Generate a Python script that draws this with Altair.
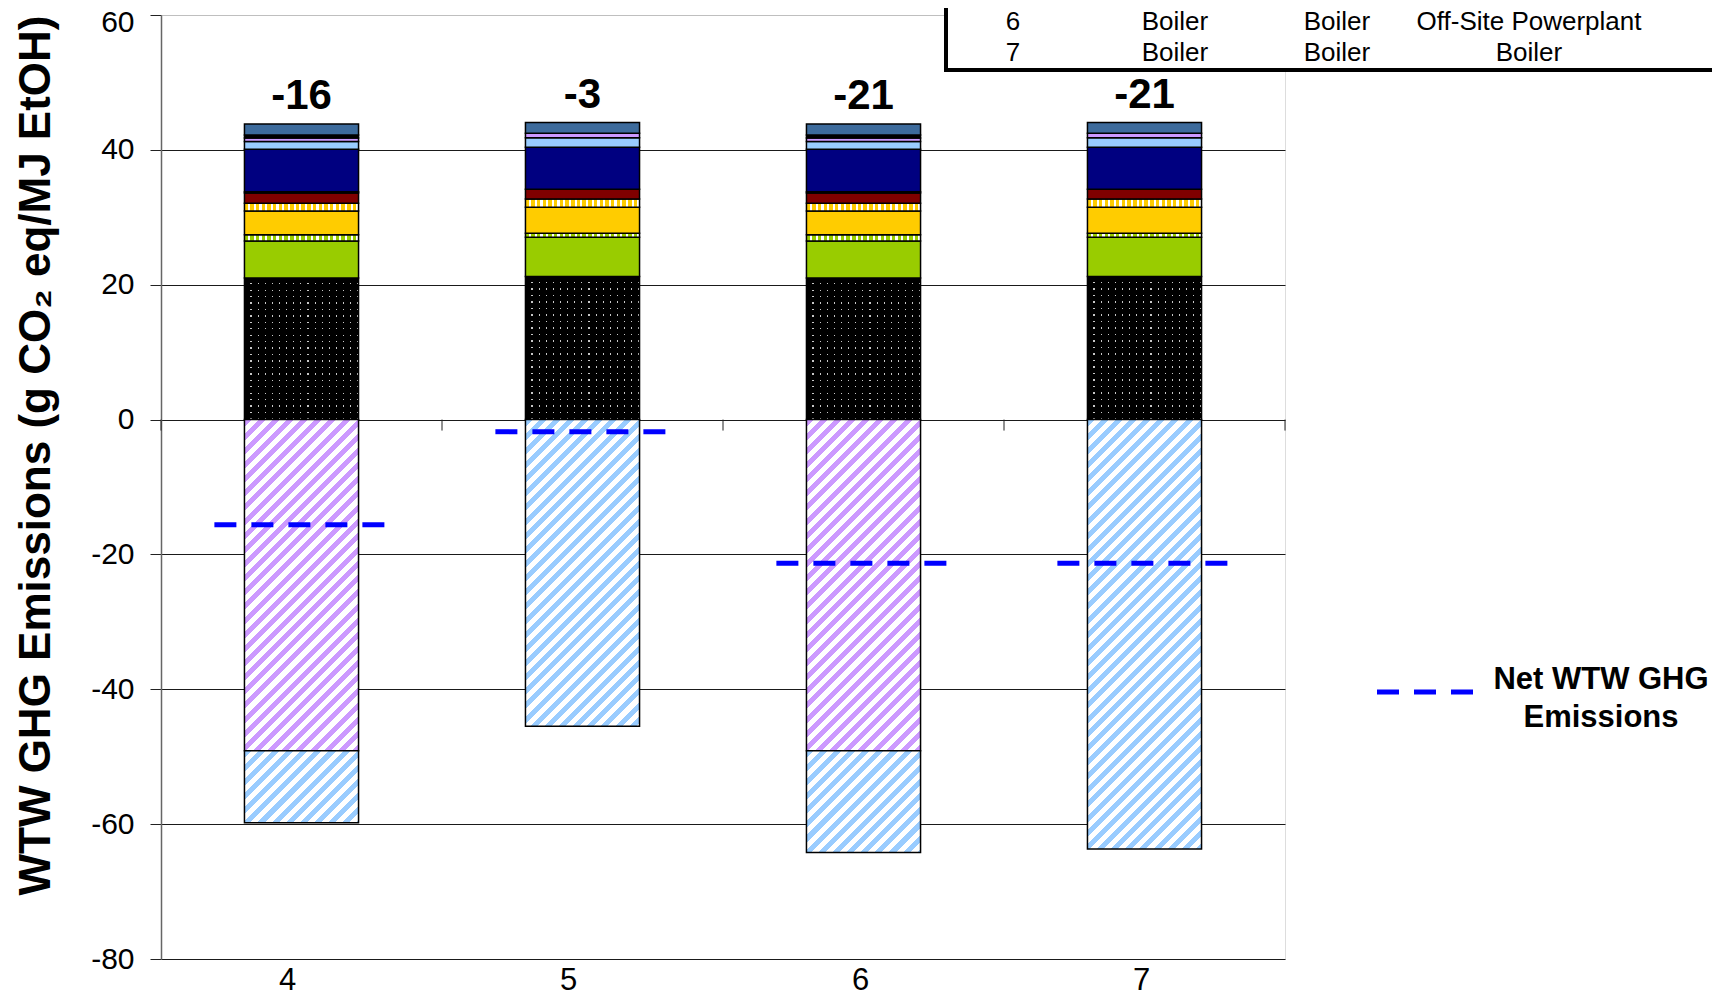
import math
import altair as alt
import pandas as pd

# ---------------- data ----------------
scenarios = ["4", "5", "6", "7"]

# positive contributions, bottom to top (g CO2eq / MJ EtOH)
dotted_black = [21.0, 21.2, 21.0, 21.2]
green = [5.5, 5.85, 5.5, 5.85]
green_striped = [0.9, 0.6, 0.9, 0.6]
yellow = [3.55, 3.85, 3.55, 3.85]
yellow_striped = [1.15, 1.2, 1.15, 1.2]
dark_red = [1.5, 1.45, 1.5, 1.45]
black_low = [0.2, 0.0, 0.2, 0.0]
navy = [6.3, 6.25, 6.3, 6.25]
light_blue = [1.15, 1.4, 1.15, 1.4]
lavender = [0.5, 0.65, 0.5, 0.65]
black_high = [0.45, 0.0, 0.45, 0.0]
steel_blue = [1.65, 1.6, 1.65, 1.6]

# credits (negative), top to bottom
credit_purple = [-49.1, 0.0, -49.1, 0.0]
credit_blue = [-10.7, -45.5, -15.1, -63.7]

net_wtw = [-15.6, -1.8, -21.3, -21.3]
net_labels = ["-16", "-3", "-21", "-21"]

table_rows = [["6", "Boiler", "Boiler", "Off-Site Powerplant"],
              ["7", "Boiler", "Boiler", "Boiler"]]
legend_lines = ["Net WTW GHG", "Emissions"]
y_ticks = [-80, -60, -40, -20, 0, 20, 40, 60]
y_title = "WTW GHG Emissions (g CO\u2082 eq/MJ EtOH)"

# ---------------- layout / style ----------------
FONT = "Liberation Sans"
W, H = 1124, 944
Y_MIN, Y_MAX = -80, 60
PX_PER_UNIT = H / (Y_MAX - Y_MIN)
BAR_FRAC = 0.406
BAR_W = W / len(scenarios) * BAR_FRAC
CLEAR = "rgba(0,0,0,0)"


def vstripes(color, w, period=5.7, frac=0.6, bg="#ffffff"):
    n = max(1, int(round(w / period)))
    stops = []
    for k in range(n):
        a, b, c = k / n, (k + frac) / n, (k + 1) / n
        stops += [{"offset": a, "color": color}, {"offset": b, "color": color},
                  {"offset": b, "color": bg}, {"offset": c, "color": bg}]
    return {"gradient": "linear", "x1": 0, "y1": 0, "x2": 1, "y2": 0, "stops": stops}


def hstripes(color, h, period=6.5, frac=0.8, bg=CLEAR):
    n = max(1, int(round(h / period)))
    stops = []
    for k in range(n):
        a, b, c = k / n, (k + frac) / n, (k + 1) / n
        stops += [{"offset": a, "color": color}, {"offset": b, "color": color},
                  {"offset": b, "color": bg}, {"offset": c, "color": bg}]
    return {"gradient": "linear", "x1": 0, "y1": 0, "x2": 0, "y2": 1, "stops": stops}


def hatch(color, w, h, period=10.0, frac=0.5):
    sn = cs = math.sqrt(0.5)
    L = w * sn + h * cs
    a = L / (w * w * sn * sn + h * h * cs * cs)
    x2, y2 = a * w * sn, a * h * cs
    stops = []
    k = 0
    while k * period < L:
        t0 = k * period / L
        t1 = min(1.0, (k + frac) * period / L)
        t2 = min(1.0, (k + 1) * period / L)
        stops += [{"offset": t0, "color": color}, {"offset": t1, "color": color},
                  {"offset": t1, "color": "#ffffff"}, {"offset": t2, "color": "#ffffff"}]
        k += 1
    return {"gradient": "linear", "x1": 0, "y1": 0, "x2": x2, "y2": y2, "stops": stops}


pos_series = [
    ("Dotted black", dotted_black, "dots"),
    ("Green", green, "#99cc00"),
    ("Green striped", green_striped, vstripes("#99cc00", BAR_W)),
    ("Yellow", yellow, "#ffcc00"),
    ("Yellow striped", yellow_striped, vstripes("#ffcc00", BAR_W)),
    ("Dark red", dark_red, "#800000"),
    ("Black (low)", black_low, "#000000"),
    ("Navy", navy, "#000080"),
    ("Light blue", light_blue, "#99ccff"),
    ("Lavender", lavender, "#cc99ff"),
    ("Black (high)", black_high, "#000000"),
    ("Steel blue", steel_blue, "#3d6b9c"),
]
neg_series = [
    ("Purple credit", credit_purple, "#cc99ff"),
    ("Blue credit", credit_blue, "#99ccff"),
]

rows, totals = [], []
for i, s in enumerate(scenarios):
    base = 0.0
    for name, vals, _ in pos_series:
        v = vals[i]
        if v > 0:
            rows.append({"scenario": s, "series": name, "y0": base, "y1": base + v})
            base += v
    totals.append(base)
    nb = 0.0
    for name, vals, _ in neg_series:
        v = vals[i]
        if v < 0:
            rows.append({"scenario": s, "series": name, "y0": nb, "y1": nb + v})
            nb += v
stack_df = pd.DataFrame(rows)

x_scale = alt.Scale(domain=scenarios, paddingInner=0, paddingOuter=0)
y_scale = alt.Scale(domain=[Y_MIN, Y_MAX], nice=False, zero=False)

x_axis = alt.Axis(title=None, labelFontSize=31, labelAngle=0, ticks=False, tickSize=0,
                  domain=False, grid=False, labelPadding=6, labelColor="#000000",
                  labelFont=FONT,
                  labelOffset={"condition": {"test": "datum.value === '4' || datum.value === '5'",
                                             "value": -14},
                               "value": -3})
y_axis = alt.Axis(values=y_ticks, title=y_title, titleFontSize=44, titleFont=FONT,
                  titleFontWeight="bold", titleColor="#000000", titleAngle=270,
                  titleX=-125, titleY=440, titleAlign="center", titleBaseline="middle",
                  labelFontSize=30, labelFont=FONT, labelColor="#000000", labelPadding=16,
                  labelExpr="datum.value + ''",
                  labelOffset={"condition": {"test": "datum.value === 60", "value": 7},
                               "value": 0},
                  tickSize=11, tickColor="#222222", domainColor="#666666", domainWidth=1.5,
                  grid=True, gridWidth=1,
                  gridColor={"condition": {"test": "datum.value === 60", "value": "#bfbfbf"},
                             "value": "#1a1a1a"})

X = alt.X("scenario:N", scale=x_scale, axis=x_axis, sort=scenarios)
Y = alt.Y("y0:Q", scale=y_scale, axis=y_axis)

base = alt.Chart(stack_df)
layers = []
bar_kw = dict(width={"band": BAR_FRAC}, stroke="#000000", strokeWidth=1.5)

for name, vals, fill in pos_series:
    if fill == "dots":
        # black ground with a sparse grid of light dots: light vertical stripes under
        # opaque black horizontal bands with narrow clear gaps
        for i, s in enumerate(scenarios):
            v = vals[i]
            if v <= 0:
                continue
            sel = base.transform_filter((alt.datum.series == name) & (alt.datum.scenario == s))
            layers.append(sel.mark_bar(width={"band": BAR_FRAC},
                                       fill=vstripes("#000000", BAR_W, period=7.3, frac=0.83,
                                                     bg="#c8c8c8"))
                          .encode(x=X, y=Y, y2="y1"))
            layers.append(sel.mark_bar(fill=hstripes("#000000", v * PX_PER_UNIT), **bar_kw)
                          .encode(x=X, y=Y, y2="y1"))
        continue
    layers.append(base.transform_filter(alt.datum.series == name)
                  .mark_bar(fill=fill, **bar_kw).encode(x=X, y=Y, y2="y1"))

for name, vals, color in neg_series:
    for i, s in enumerate(scenarios):
        v = vals[i]
        if v < 0:
            g = hatch(color, BAR_W, abs(v) * PX_PER_UNIT)
            layers.append(base.transform_filter((alt.datum.series == name) & (alt.datum.scenario == s))
                          .mark_bar(fill=g, **bar_kw).encode(x=X, y=Y, y2="y1"))

# category-boundary tick marks on the zero line
tick_df = pd.DataFrame({"scenario": scenarios})
tick_len = 11 / PX_PER_UNIT
layers.append(alt.Chart(tick_df).mark_rule(color="#222222", strokeWidth=1).encode(
    x=alt.X("scenario:N", scale=x_scale, axis=x_axis, sort=scenarios, bandPosition=0),
    y=alt.datum(0, scale=y_scale), y2=alt.datum(-tick_len)))
layers.append(alt.Chart(tick_df).transform_filter(alt.datum.scenario == scenarios[-1])
              .mark_rule(color="#222222", strokeWidth=1).encode(
    x=alt.X("scenario:N", scale=x_scale, axis=x_axis, sort=scenarios, bandPosition=1),
    y=alt.datum(0, scale=y_scale), y2=alt.datum(-tick_len)))

# net WTW dashed lines
net_df = pd.DataFrame({"scenario": scenarios, "net": net_wtw})
layers.append(alt.Chart(net_df).mark_rule(color="#0000ff", strokeWidth=5, strokeDash=[22, 15],
                                          strokeCap="butt").encode(
    x=alt.X("scenario:N", scale=x_scale, axis=x_axis, sort=scenarios, bandPosition=0.19),
    x2=alt.X2("scenario", bandPosition=0.81),
    y=alt.Y("net:Q", scale=y_scale, axis=y_axis)))

# net labels above bars
lab_df = pd.DataFrame({"scenario": scenarios, "top": totals, "label": net_labels})
layers.append(alt.Chart(lab_df).mark_text(font=FONT, fontSize=42, fontWeight="bold",
                                          baseline="middle", dy=-28, color="#000000").encode(
    x=alt.X("scenario:N", scale=x_scale, axis=x_axis, sort=scenarios),
    y=alt.Y("top:Q", scale=y_scale, axis=y_axis), text="label:N"))

# table box (top right)
one = alt.Data(values=[{}])
layers.append(alt.Chart(one).mark_rect(fill="#ffffff", stroke="#000000", strokeWidth=4).encode(
    x=alt.value(785), x2=alt.value(1600), y=alt.value(-40), y2=alt.value(55)))
table_col_x = [852, 1014, 1176, 1368]
table_row_y = [7, 37.5]
for r, row in enumerate(table_rows):
    for c, cell in enumerate(row):
        layers.append(alt.Chart(one).mark_text(font=FONT, fontSize=26, color="#000000",
                                               align="center", baseline="middle").encode(
            x=alt.value(table_col_x[c]), y=alt.value(table_row_y[r]), text=alt.value(cell)))

# legend
layers.append(alt.Chart(one).mark_rule(color="#0000ff", strokeWidth=5, strokeDash=[22, 15],
                                       strokeCap="butt").encode(
    x=alt.value(1216), x2=alt.value(1312), y=alt.value(677)))
legend_y = [665, 703]
for k, line in enumerate(legend_lines):
    layers.append(alt.Chart(one).mark_text(font=FONT, fontSize=31, fontWeight="bold",
                                           color="#000000", align="center",
                                           baseline="middle").encode(
        x=alt.value(1440), y=alt.value(legend_y[k]), text=alt.value(line)))

chart = (alt.layer(*layers)
         .properties(width=W, height=H,
                     autosize=alt.AutoSizeParams(type="none"),
                     padding={"left": 153, "top": 7, "right": 427, "bottom": 45})
         .configure_view(stroke="#bfbfbf", strokeWidth=1)
         .configure(font=FONT))

chart.save("out.html", embed_options={"renderer": "svg", "actions": False})
